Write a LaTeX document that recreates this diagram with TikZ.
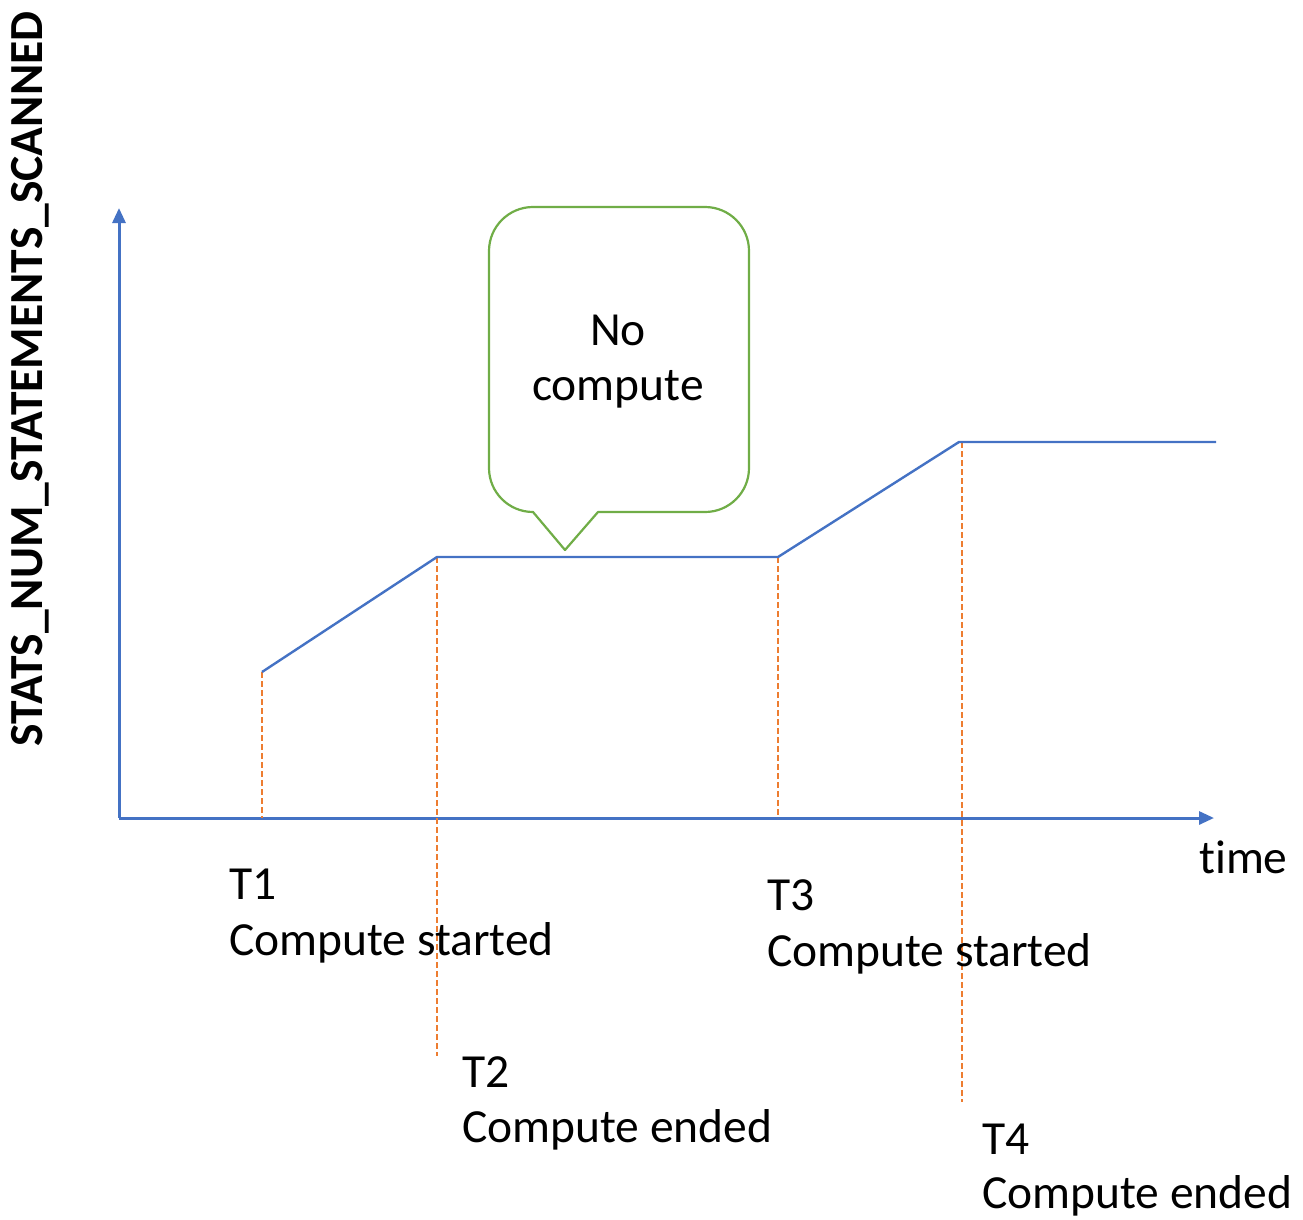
\documentclass[tikz,border=0pt]{standalone}
\usepackage{fontspec}
\setmainfont{Carlito}[Ligatures=NoCommon]
\usetikzlibrary{arrows.meta}
\definecolor{axblue}{HTML}{4472C4}
\definecolor{dashorange}{HTML}{ED7D31}
\definecolor{callgreen}{HTML}{70AD47}
\begin{document}
\begin{tikzpicture}[x=1pt,y=-1pt,
  txt/.style={font=\fontsize{47.5}{57}\selectfont, inner sep=0pt},
  lbl/.style={txt, anchor=base west},
  axisline/.style={draw=axblue, line width=3pt, -{Triangle[length=15pt,width=13pt]}},
  dataline/.style={draw=axblue, line width=2.4pt, line join=round},
  dashline/.style={draw=dashorange, line width=2.4pt, dash pattern=on 5.5pt off 3.5pt},
  callout/.style={draw=callgreen, line width=2.2pt, fill=white, line join=round}]
\useasboundingbox (0,0) rectangle (1303,1220);
% axes
\coordinate (origin) at (119,818);
\coordinate (ytip) at (119,208);
\coordinate (xtip) at (1214,818);
\draw[axisline] (origin) -- (ytip);
\draw[axisline] (origin) -- (xtip);
% data points
\coordinate (p1) at (262,672);
\coordinate (p2) at (437,557);
\coordinate (p3) at (778,557);
\coordinate (p4) at (959,442);
\coordinate (p5) at (1216,442);
% dashed drops
\coordinate (b1) at (262,818);
\coordinate (b2) at (437,1056);
\coordinate (b3) at (778,818);
\coordinate (t4top) at (962,442);
\coordinate (b4) at (962,1102);
\draw[dashline] (p1) -- (b1);
\draw[dashline] (p2) -- (b2);
\draw[dashline] (p3) -- (b3);
\draw[dashline] (t4top) -- (b4);
% data line
\draw[dataline] (p1) -- (p2) -- (p3) -- (p4) -- (p5);
% callout
\coordinate (tip) at (565,550);
\draw[callout] (tip) -- (598,512) [rounded corners=44pt] -- (749,512) -- (749,207) -- (489,207) -- (489,512) [sharp corners] -- (533,512) -- cycle;
\node[txt, anchor=base] (no) at (618,345) {No};
\node[txt, anchor=base] (compute) at (618,400) {compute};
% y label
\node[txt, font=\fontsize{47.5}{57}\selectfont\bfseries, rotate=90] (ylabel) at (30,379) {STATS\_NUM\_STATEMENTS\_SCANNED};
% x label
\node[lbl] (time) at (1199,873) {time};
% time labels
\node[lbl] (t1) at (229,899) {T1};
\node[lbl] (t1b) at (229,955) {Compute started};
\node[lbl] (t2) at (462,1087) {T2};
\node[lbl] (t2b) at (462,1142) {Compute ended};
\node[lbl] (t3) at (767,910) {T3};
\node[lbl] (t3b) at (767,966) {Compute started};
\node[lbl] (t4) at (982,1154) {T4};
\node[lbl] (t4b) at (982,1208) {Compute ended};
\end{tikzpicture}
\end{document}
